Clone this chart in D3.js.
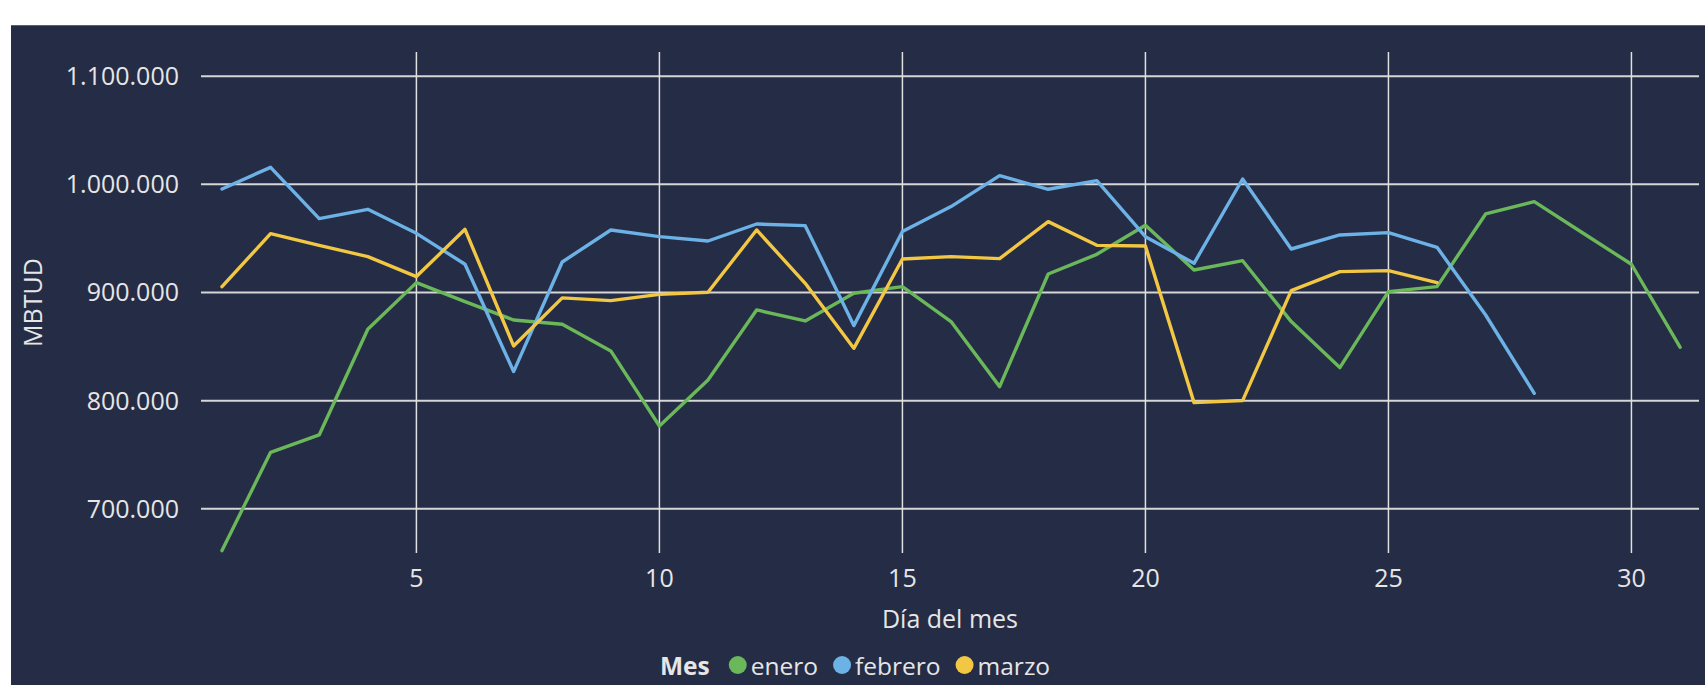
<!DOCTYPE html>
<html>
<head>
<meta charset="utf-8">
<script src="https://cdn.jsdelivr.net/npm/d3@7"></script>
<style>
    body { margin: 0; background: #ffffff; font-family: "Open Sans", "Noto Sans", sans-serif; }
    #chart svg { display: block; }
    .tick-label { fill: #e6e6e6; font-size: 25px; }
    .axis-title { fill: #e6e6e6; font-size: 25px; }
    .legend-text { fill: #e6e6e6; font-size: 24.5px; }
</style>
</head>
<body>
<div id="chart"></div>
<script>
// Daily values (MBTUD), one array per month
const days = d3.range(1, 32);
const enero = [661400, 752300, 768300, 866000, 909100, 891600, 874600, 870600, 846000, 776600,
    819200, 883900, 873700, 899300, 905400, 873100, 813000, 917100, 935300, 962100,
    920800, 929400, 873100, 830600, 900800, 905400, 972600, 984000, 955000, 926100, 849400];
const febrero = [995700, 1015700, 968300, 976900, 954700, 926100, 826900, 928200, 957800, 951600,
    947600, 963300, 961800, 869400, 956300, 979400, 1008000, 995400, 1003400, 951600,
    927000, 1004900, 940200, 953200, 955300, 941800, 879200, 806800];
const marzo = [905400, 954400, 943600, 933200, 914700, 958400, 850600, 895000, 892500, 898300,
    900200, 957800, 908500, 848400, 931000, 933200, 931300, 965500, 943600, 943000,
    798200, 800100, 901700, 919300, 920200, 909100];

const seriesNames = ["enero", "febrero", "marzo"];
const seriesColors = ["#6ab85a", "#6cb2e6", "#f2c744"];
const xTicks = [5, 10, 15, 20, 25, 30];
const yTicks = [700000, 800000, 900000, 1000000, 1100000];

createChart();

function createChart() {
    const W = 1705, H = 685;
    const margin = { top: 52, right: 6, bottom: 132, left: 201 };
    const width = W - margin.left - margin.right;
    const height = H - margin.top - margin.bottom;

    const svg = d3.select("#chart")
        .append("svg")
        .attr("width", W)
        .attr("height", H);

    // dark card behind the chart
    svg.append("rect")
        .attr("x", 11).attr("y", 25)
        .attr("width", W - 11).attr("height", H - 25)
        .attr("fill", "#252c45");
    svg.append("line")
        .attr("x1", 11).attr("x2", W).attr("y1", 25.5).attr("y2", 25.5)
        .attr("stroke", "#5a6074").attr("stroke-width", 1);

    const g = svg.append("g")
        .attr("transform", `translate(${margin.left},${margin.top})`);

    const x = d3.scaleLinear().domain([0.568, 31.39]).range([0, width]);
    const y = d3.scaleLinear().domain([659200, 1122300]).range([height, 0]);

    const locale = d3.formatLocale({ decimal: ",", thousands: ".", grouping: [3], currency: ["", "€"] });
    const fmt = locale.format(",d");

    // horizontal grid + y labels
    g.append("g")
        .selectAll("line")
        .data(yTicks)
        .enter()
        .append("line")
        .attr("x1", 0).attr("x2", width)
        .attr("y1", d => y(d)).attr("y2", d => y(d))
        .attr("stroke", "#d6d6d6")
        .attr("stroke-width", 2);

    g.append("g")
        .selectAll("text")
        .data(yTicks)
        .enter()
        .append("text")
        .attr("class", "tick-label")
        .attr("x", -22)
        .attr("y", d => y(d))
        .attr("dy", "0.36em")
        .style("text-anchor", "end")
        .text(d => fmt(d));

    // vertical grid + x labels
    g.append("g")
        .selectAll("line")
        .data(xTicks)
        .enter()
        .append("line")
        .attr("x1", d => x(d)).attr("x2", d => x(d))
        .attr("y1", 0).attr("y2", height)
        .attr("stroke", "#e0e0e0")
        .attr("stroke-width", 1.5);

    g.append("g")
        .selectAll("text")
        .data(xTicks)
        .enter()
        .append("text")
        .attr("class", "tick-label")
        .attr("x", d => x(d))
        .attr("y", height + 34)
        .style("text-anchor", "middle")
        .text(d => d);

    // axis titles
    g.append("text")
        .attr("class", "axis-title")
        .attr("x", width / 2)
        .attr("y", height + 75)
        .style("text-anchor", "middle")
        .text("Día del mes");

    svg.append("text")
        .attr("class", "axis-title")
        .attr("transform", `translate(33,${margin.top + height / 2}) rotate(-90)`)
        .attr("dy", "0.35em")
        .style("text-anchor", "middle")
        .text("MBTUD");

    // lines
    const line = d3.line()
        .x((d, i) => x(days[i]))
        .y(d => y(d));

    [enero, febrero, marzo].forEach((values, k) => {
        g.append("path")
            .datum(values)
            .attr("fill", "none")
            .attr("stroke", seriesColors[k])
            .attr("stroke-width", 3.4)
            .attr("stroke-linejoin", "round")
            .attr("stroke-linecap", "round")
            .attr("d", line);
    });

    // legend at the bottom
    const legend = svg.append("g").attr("transform", "translate(660,675)");
    const title = legend.append("text")
        .attr("class", "legend-text")
        .style("font-weight", "bold")
        .text("Mes");
    let cx = title.node().getComputedTextLength() + 28;
    seriesNames.forEach((name, k) => {
        legend.append("circle")
            .attr("cx", cx)
            .attr("cy", -10)
            .attr("r", 9)
            .attr("fill", seriesColors[k]);
        const t = legend.append("text")
            .attr("class", "legend-text")
            .attr("x", cx + 13)
            .text(name);
        cx += 13 + t.node().getComputedTextLength() + 24;
    });
}
</script>
</body>
</html>
